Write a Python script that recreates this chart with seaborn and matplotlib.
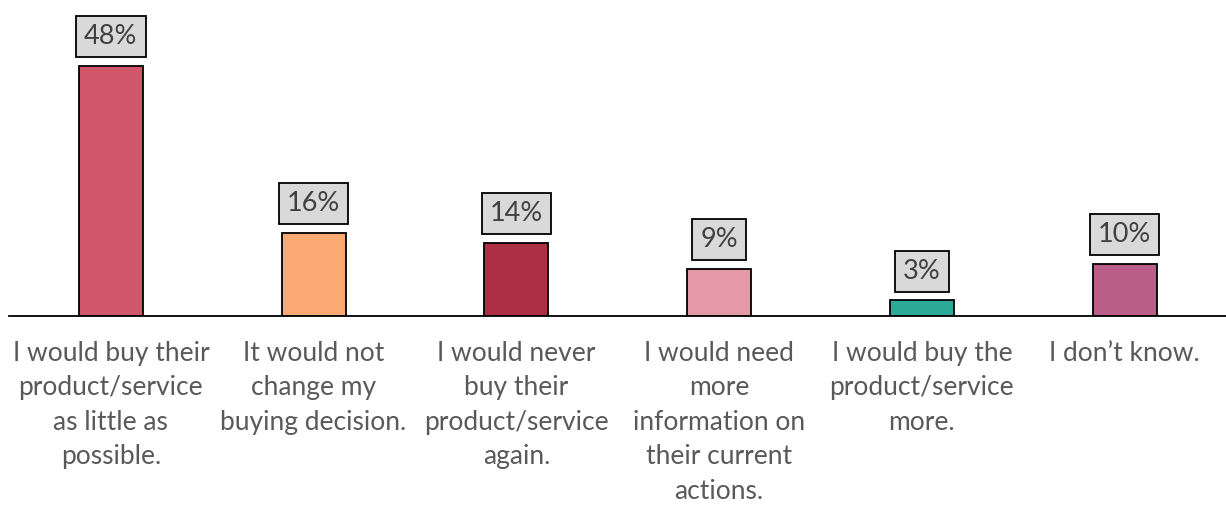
import matplotlib
matplotlib.use("Agg")
import matplotlib.pyplot as plt
import seaborn as sns
import pandas as pd

categories = [
    "I would buy their\nproduct/service\nas little as\npossible.",
    "It would not\nchange my\nbuying decision.",
    "I would never\nbuy their\nproduct/service\nagain.",
    "I would need\nmore\ninformation on\ntheir current\nactions.",
    "I would buy the\nproduct/service\nmore.",
    "I don\u2019t know.",
]
values = [48, 16, 14, 9, 3, 10]
labels = ["48%", "16%", "14%", "9%", "3%", "10%"]
colors = ["#D0566A", "#FBAA73", "#AC2F45", "#E49BA7", "#2BAA97", "#B95F8A"]

sns.set_theme(style="white")
plt.rcParams["font.family"] = ["Lato", "DejaVu Sans"]

df = pd.DataFrame({"cat": categories, "val": values})

fig = plt.figure(figsize=(12.26, 5.08), dpi=100)
ax = fig.add_axes([0.0077, 0.378, 0.9923, 0.622])
sns.barplot(data=df, x="cat", y="val", hue="cat", palette=colors, legend=False,
            saturation=1, width=0.315, edgecolor="black", linewidth=1.3, ax=ax)

ax.set_xlim(-0.5, 5.5)
ax.set_ylim(0, 60.6)
ax.set_xlabel("")
ax.set_ylabel("")
ax.set_yticks([])
for s in ["top", "right", "left"]:
    ax.spines[s].set_visible(False)
ax.spines["bottom"].set_color("black")
ax.spines["bottom"].set_linewidth(1.3)
ax.tick_params(axis="x", length=0, pad=18, labelsize=19, labelcolor="#595959")
for t in ax.get_xticklabels():
    t.set_linespacing(1.47)
    t.set_verticalalignment("top")

for i, (v, lab) in enumerate(zip(values, labels)):
    ax.text(i, v + 5.6, lab, ha="center", va="center", fontsize=19.5, color="#404040",
            bbox=dict(boxstyle="square,pad=0.3", facecolor="#D9D9D9", edgecolor="black", linewidth=1.3))

fig.savefig("out.png", dpi=100)
